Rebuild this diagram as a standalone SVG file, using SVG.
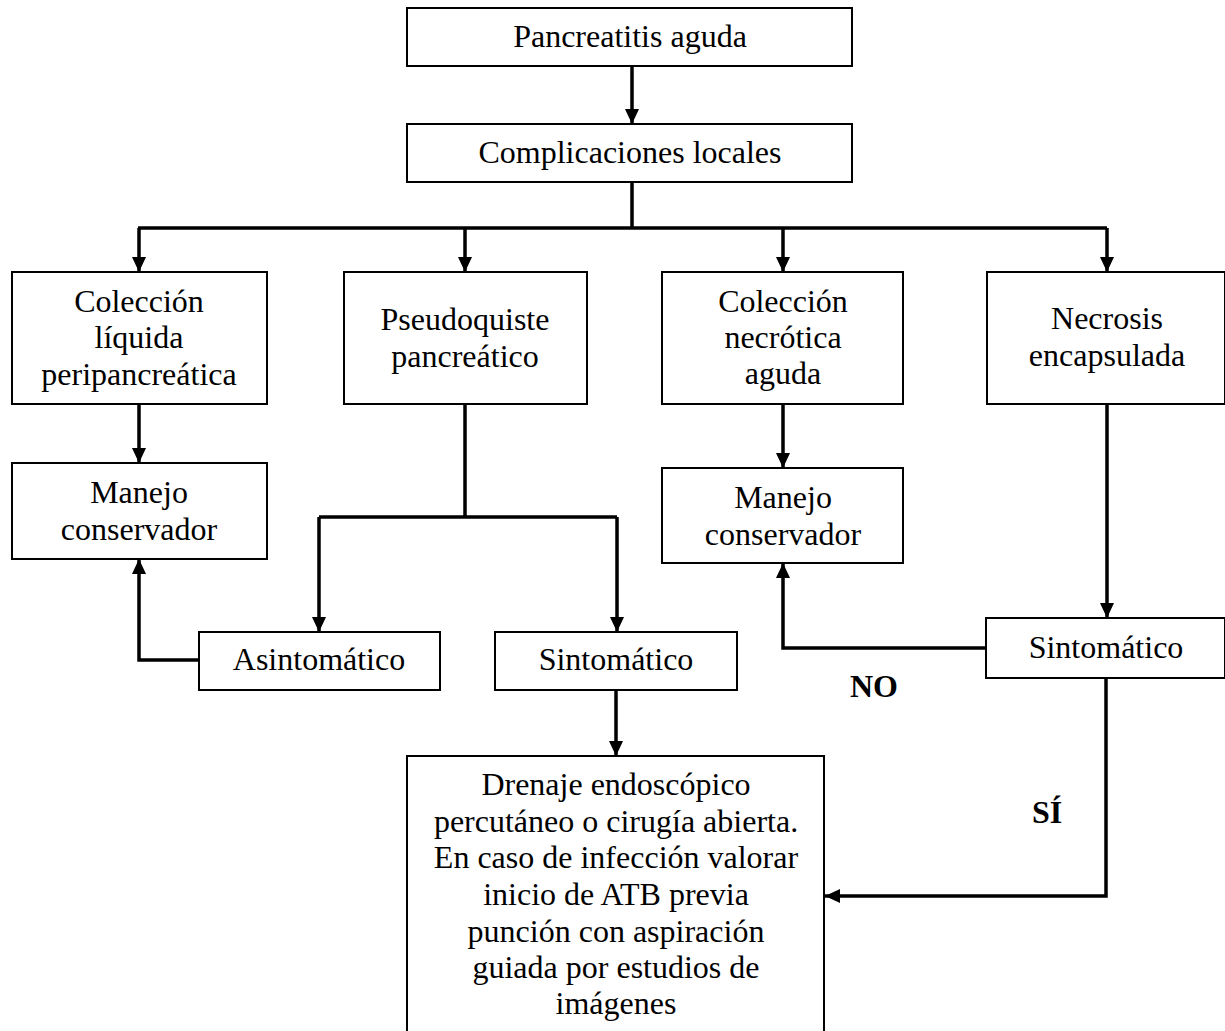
<svg xmlns="http://www.w3.org/2000/svg" width="1225" height="1031" viewBox="0 0 1225 1031">
<style>
.box{fill:#fff;stroke:#000;stroke-width:2}
.t{font-family:"Liberation Serif","Times New Roman",serif;font-size:32px;fill:#000;text-anchor:middle}
.b{font-weight:bold}
.c{fill:none;stroke:#000;stroke-width:3.5}
</style>
<defs>
<marker id="ah" markerUnits="userSpaceOnUse" viewBox="0 0 15 14" markerWidth="15" markerHeight="14" refX="15" refY="7" orient="auto">
<path d="M0,0 L15,7 L0,14 z" fill="#000"/>
</marker>
</defs>
<rect width="1225" height="1031" fill="#fff"/>
<g id="connectors">
<path class="c" d="M632,66 V124" marker-end="url(#ah)"/>
<path class="c" d="M632,182 V228"/>
<path class="c" d="M138,228 H1107"/>
<path class="c" d="M139,228 V272" marker-end="url(#ah)"/>
<path class="c" d="M465,228 V272" marker-end="url(#ah)"/>
<path class="c" d="M783,228 V272" marker-end="url(#ah)"/>
<path class="c" d="M1107,228 V272" marker-end="url(#ah)"/>
<path class="c" d="M139,404 V463" marker-end="url(#ah)"/>
<path class="c" d="M465,404 V517 M319,517 H617"/>
<path class="c" d="M319,517 V632" marker-end="url(#ah)"/>
<path class="c" d="M617,517 V632" marker-end="url(#ah)"/>
<path class="c" d="M199,660 H139 V559" marker-end="url(#ah)"/>
<path class="c" d="M783,404 V468" marker-end="url(#ah)"/>
<path class="c" d="M1107,404 V618" marker-end="url(#ah)"/>
<path class="c" d="M986,648 H783 V563" marker-end="url(#ah)"/>
<path class="c" d="M616,690 V756" marker-end="url(#ah)"/>
<path class="c" d="M1106,678 V896 H825" marker-end="url(#ah)"/>
</g>
<g id="n-pancreatitis">
<rect class="box" x="407" y="8" width="445" height="58"/>
<text class="t" x="630" y="47">Pancreatitis aguda</text>
</g>
<g id="n-complicaciones">
<rect class="box" x="407" y="124" width="445" height="58"/>
<text class="t" x="630" y="163">Complicaciones locales</text>
</g>
<g id="n-coleccion-liquida">
<rect class="box" x="12" y="272" width="255" height="132"/>
<text class="t" x="139" y="312">Colección</text>
<text class="t" x="139" y="348">líquida</text>
<text class="t" x="139" y="385">peripancreática</text>
</g>
<g id="n-pseudoquiste">
<rect class="box" x="344" y="272" width="243" height="132"/>
<text class="t" x="465" y="330">Pseudoquiste</text>
<text class="t" x="465" y="367">pancreático</text>
</g>
<g id="n-coleccion-necrotica">
<rect class="box" x="662" y="272" width="241" height="132"/>
<text class="t" x="783" y="312">Colección</text>
<text class="t" x="783" y="348">necrótica</text>
<text class="t" x="783" y="384">aguda</text>
</g>
<g id="n-necrosis">
<rect class="box" x="987" y="272" width="238" height="132"/>
<text class="t" x="1107" y="329">Necrosis</text>
<text class="t" x="1107" y="366">encapsulada</text>
</g>
<g id="n-manejo-1">
<rect class="box" x="12" y="463" width="255" height="96"/>
<text class="t" x="139" y="503">Manejo</text>
<text class="t" x="139" y="540">conservador</text>
</g>
<g id="n-manejo-2">
<rect class="box" x="662" y="468" width="241" height="95"/>
<text class="t" x="783" y="508">Manejo</text>
<text class="t" x="783" y="545">conservador</text>
</g>
<g id="n-asintomatico">
<rect class="box" x="199" y="632" width="241" height="58"/>
<text class="t" x="319" y="670">Asintomático</text>
</g>
<g id="n-sintomatico-1">
<rect class="box" x="495" y="632" width="242" height="58"/>
<text class="t" x="616" y="670">Sintomático</text>
</g>
<g id="n-sintomatico-2">
<rect class="box" x="986" y="618" width="239" height="60"/>
<text class="t" x="1106" y="658">Sintomático</text>
</g>
<g id="n-drenaje">
<rect class="box" x="407" y="756" width="417" height="290"/>
<text class="t" x="616" y="795">Drenaje endoscópico</text>
<text class="t" x="616" y="832">percutáneo o cirugía abierta.</text>
<text class="t" x="616" y="868">En caso de infección valorar</text>
<text class="t" x="616" y="905">inicio de ATB previa</text>
<text class="t" x="616" y="942">punción con aspiración</text>
<text class="t" x="616" y="978">guiada por estudios de</text>
<text class="t" x="616" y="1014">imágenes</text>
</g>
<g id="labels">
<text class="t b" x="874" y="697">NO</text>
<text class="t b" x="1047" y="823">SÍ</text>
</g>
</svg>
